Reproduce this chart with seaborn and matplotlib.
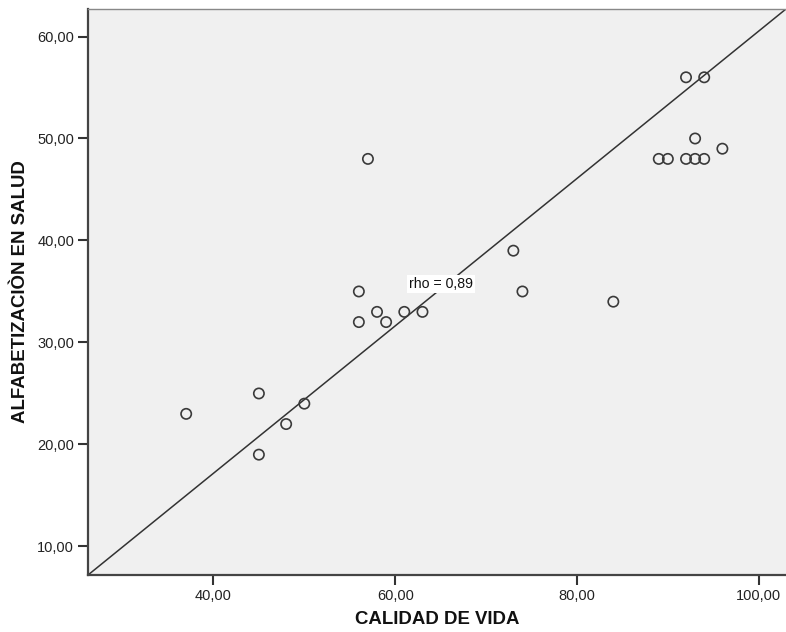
import matplotlib
matplotlib.use('Agg')
import matplotlib.pyplot as plt
import seaborn as sns
import pandas as pd
from matplotlib.ticker import FuncFormatter, FixedLocator


# === Data ===

calidad_vida = [37, 45, 45, 48, 50, 56, 56, 57, 58, 59, 61, 63,
                73, 74, 84, 89, 90, 92, 92, 93, 93, 94, 94, 96]
alfabetizacion = [23, 25, 19, 22, 24, 35, 32, 48, 33, 32, 33, 33,
                  39, 35, 34, 48, 48, 56, 48, 50, 48, 56, 48, 49]
x_ticks = [40, 60, 80, 100]
y_ticks = [10, 20, 30, 40, 50, 60]
rho_label = 'rho = 0,89'

df = pd.DataFrame({'calidad': calidad_vida, 'alfabetizacion': alfabetizacion})


# === Style ===

sns.set_style('ticks')
plt.rcParams['font.family'] = ['Liberation Sans', 'DejaVu Sans']

fig = plt.figure(figsize=(7.86, 6.32), dpi=100)
ax = fig.add_axes([0.112, 0.0902, 0.888, 0.8956])
ax.set_facecolor('#f0f0f0')


# === Plot ===

sns.scatterplot(
    data=df, x='calidad', y='alfabetizacion', ax=ax,
    marker='o', s=55, facecolor='none', edgecolor='#3a3a3a', linewidth=1.2,
    zorder=3,
)

# Diagonal reference line across the frame.
ax.plot([0, 1], [0, 1], transform=ax.transAxes, color='#333333', lw=1.1, zorder=2)

ax.text(61.5, 35.75, rho_label, fontsize=10.2, va='center', ha='left', color='#111111',
        bbox=dict(facecolor='white', edgecolor='none', pad=1.5), zorder=4)

ax.set_xlim(26.2, 103.0)
ax.set_ylim(7.2, 62.7)
ax.xaxis.set_major_locator(FixedLocator(x_ticks))
ax.yaxis.set_major_locator(FixedLocator(y_ticks))
fmt = FuncFormatter(lambda v, p: f'{v:.2f}'.replace('.', ','))
ax.xaxis.set_major_formatter(fmt)
ax.yaxis.set_major_formatter(fmt)
ax.tick_params(axis='both', direction='out', length=7, width=1.5, color='#333333',
               labelsize=10.5, labelcolor='#222222', pad=3)

for side in ['left', 'bottom']:
    ax.spines[side].set_color('#444444')
    ax.spines[side].set_linewidth(1.6)
ax.spines['top'].set_color('#888888')
ax.spines['top'].set_linewidth(1.0)
ax.spines['right'].set_visible(False)

ax.set_xlabel('CALIDAD DE VIDA', fontsize=13.4, fontweight='bold', color='#111111', labelpad=6)
ax.set_ylabel('ALFABETIZACIÒN EN SALUD', fontsize=13.4, fontweight='bold', color='#111111', labelpad=6)

fig.savefig('out.png', dpi=100)
